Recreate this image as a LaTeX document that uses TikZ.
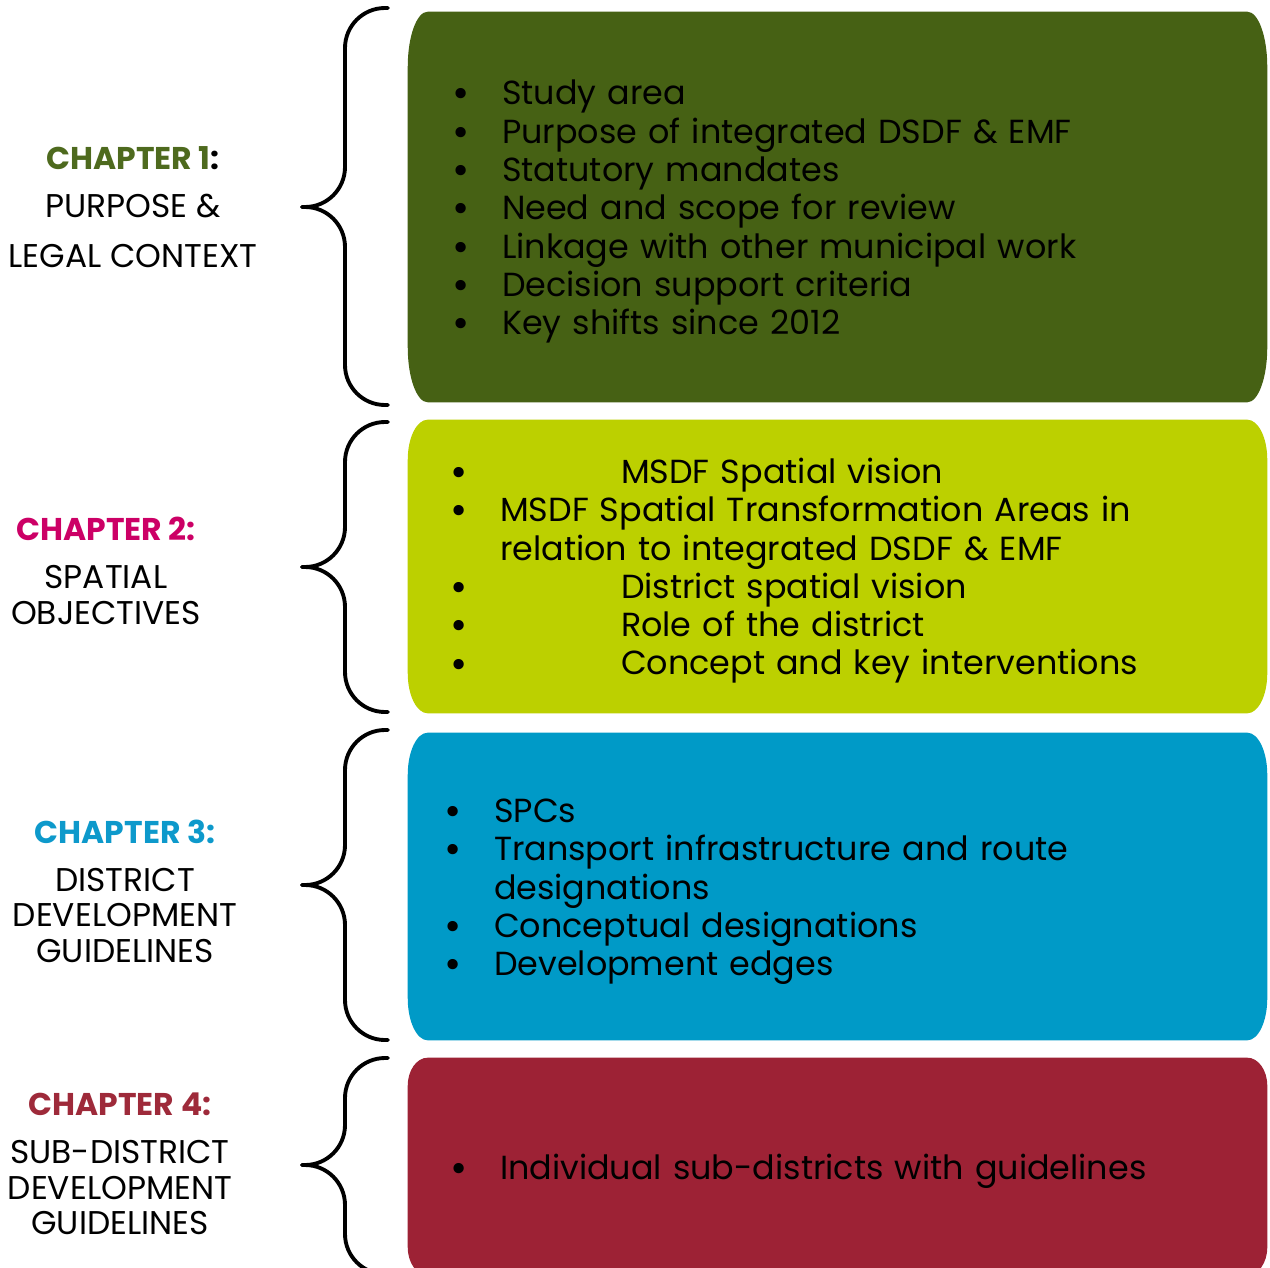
\documentclass[tikz,border=0pt]{standalone}
\usepackage{fontspec}
\setmainfont{Poppins}
\usetikzlibrary{calc,backgrounds}

\definecolor{boxgreen}{HTML}{466114}
\definecolor{boxlime}{HTML}{BCD000}
\definecolor{boxblue}{HTML}{009AC7}
\definecolor{boxred}{HTML}{9D2235}
\definecolor{chgreen}{HTML}{4E6A1E}
\definecolor{chpink}{HTML}{CC0066}
\definecolor{chblue}{HTML}{0D99CB}
\definecolor{chred}{HTML}{9E2A3A}

\newcommand\bul{\makebox[0.96cm][l]{\hspace{-1pt}\raisebox{-1.8pt}{\scalebox{1.25}{\textbullet}}}}
\newcommand\topstrut{\rule{0pt}{19.5pt}}
\newcommand\botstrut{\rule[-5pt]{0pt}{5pt}}
\newcommand\chhead[2]{{\color{#1}\bfseries\fontsize{17.9}{20.2}\selectfont #2}}
\def\roundbox#1#2#3#4{% node, fill, x radius, y radius
	\fill[#2] ($(#1.north west)+(#3,0)$) -- ($(#1.north east)+(-#3,0)$)
	.. controls +({0.552*#3},0) and +(0,{-0.552*#4}) .. ($(#1.north east)+(0,#4)$)
	-- ($(#1.south east)+(0,-#4)$)
	.. controls +(0,{0.552*#4}) and +({0.552*#3},0) .. ($(#1.south east)+(-#3,0)$)
	-- ($(#1.south west)+(#3,0)$)
	.. controls +({-0.552*#3},0) and +(0,{0.552*#4}) .. ($(#1.south west)+(0,-#4)$)
	-- ($(#1.north west)+(0,#4)$)
	.. controls +(0,{-0.552*#4}) and +({-0.552*#3},0) .. ($(#1.north west)+(#3,0)$) -- cycle;
}
\def\chbrace(#1:#2:#3){% top, tip, bottom
	\draw[brace line] (388,#1) -- (345,#1) -- (345,#2) -- (302,#2);
	\draw[brace line] (302,#2) -- (345,#2) -- (345,#3) -- (388,#3);
}

\begin{document}
\begin{tikzpicture}[x=0.02cm, y=-0.02cm,
	chap/.style={align=center, inner sep=0pt, font=\fontsize{18.7}{20.2}\selectfont},
	list/.style={align=left, inner sep=0pt, minimum width=17.18cm, font=\fontsize{19}{21.8}\selectfont},
	brace line/.style={line width=2.2pt, rounded corners=0.8cm, line cap=round}]
	\useasboundingbox (0,0) rectangle (1270,1267);
	\clip (0,0) rectangle (1270,1267);
	
	%%%%% chapters %%%%%
	\node[chap] (ch1) at (133,207) {\chhead{chgreen}{CHAPTER 1}\chhead{black}{:}\\[7pt]
		PURPOSE \&\\[8pt] LEGAL CONTEXT};
	\node[chap] (ch2) at (106,571) {\chhead{chpink}{CHAPTER 2:}\\[7pt]
		SPATIAL\\ OBJECTIVES};
	\node[chap] (ch3) at (125,891) {\chhead{chblue}{CHAPTER 3:}\\[7pt]
		DISTRICT\\ DEVELOPMENT\\ GUIDELINES};
	\node[chap] (ch4) at (120,1164) {\chhead{chred}{CHAPTER 4:}\\[7pt]
		SUB-DISTRICT\\ DEVELOPMENT\\ GUIDELINES};
	
	%%%%% lists %%%%%
	\node[list, minimum height=7.8cm, text width=15.34cm] (box1) at (837.5,207) {%
		\topstrut\bul Study area\\
		\bul Purpose of integrated DSDF \& EMF\\
		\bul Statutory mandates\\
		\bul Need and scope for review\\
		\bul Linkage with other municipal work\\
		\bul Decision support criteria\\
		\bul Key shifts since 2012\botstrut};
	\node[list, minimum height=5.86cm, text width=15.42cm] (box2) at (837.5,566.5) {%
		\topstrut\bul\hspace*{2.42cm}MSDF Spatial vision\\
		\bul MSDF Spatial Transformation Areas in\\
		\hspace*{0.96cm}relation to integrated DSDF \& EMF\\
		\bul\hspace*{2.42cm}District spatial vision\\
		\bul\hspace*{2.42cm}Role of the district\\
		\bul\hspace*{2.42cm}Concept and key interventions\botstrut};
	\node[list, minimum height=6.14cm, text width=15.66cm] (box3) at (837.5,886.5) {%
		\topstrut\bul SPCs\\
		\bul Transport infrastructure and route\\
		\hspace*{0.96cm}designations\\
		\bul Conceptual designations\\
		\bul Development edges\botstrut};
	\node[list, minimum height=4.34cm, text width=15.42cm] (box4) at (837.5,1166.5) {%
		\topstrut\bul Individual sub-districts with guidelines\botstrut};
	
	\begin{pgfonlayer}{background}
		\roundbox{box1}{boxgreen}{20}{55}
		\roundbox{box2}{boxlime}{20}{40}
		\roundbox{box3}{boxblue}{20}{42}
		\roundbox{box4}{boxred}{20}{28}
	\end{pgfonlayer}
	
	%%%%% braces %%%%%
	\chbrace(8:207:405)
	\chbrace(422:567:712)
	\chbrace(730:885:1040)
	\chbrace(1058:1165:1274)
\end{tikzpicture}
\end{document}
